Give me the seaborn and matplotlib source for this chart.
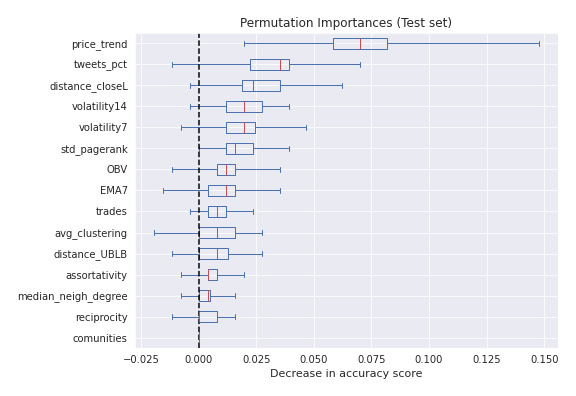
import numpy as np
import matplotlib
matplotlib.use("Agg")
import matplotlib.pyplot as plt
import seaborn as sns

# features, top to bottom as shown
features = ['price_trend', 'tweets_pct', 'distance_closeL', 'volatility14', 'volatility7',
            'std_pagerank', 'OBV', 'EMA7', 'trades', 'avg_clustering',
            'distance_UBLB', 'assortativity', 'median_neigh_degree', 'reciprocity', 'comunities']

whis_lo = [0.0197, -0.0116, -0.0038, -0.0038, -0.0077,
           0.0000, -0.0116, -0.0155, -0.0038, -0.0194,
           -0.0116, -0.0077, -0.0077, -0.0116, 0.0]
q1 = [0.0583, 0.0223, 0.0188, 0.0119, 0.0119,
      0.0119, 0.0080, 0.0041, 0.0041, 0.0000,
      0.0000, 0.0041, 0.0000, 0.0000, 0.0]
med = [0.0700, 0.0353, 0.0236, 0.0197, 0.0197,
       0.0158, 0.0119, 0.0119, 0.0080, 0.0080,
       0.0080, 0.0041, 0.0041, 0.0000, 0.0]
q3 = [0.0817, 0.0392, 0.0353, 0.0275, 0.0245,
      0.0236, 0.0158, 0.0158, 0.0119, 0.0158,
      0.0127, 0.0080, 0.0049, 0.0080, 0.0]
whis_hi = [0.1477, 0.0700, 0.0622, 0.0392, 0.0466,
           0.0392, 0.0353, 0.0353, 0.0236, 0.0275,
           0.0275, 0.0197, 0.0158, 0.0158, 0.0]

sns.set_style("darkgrid")

stats = []
for i in range(len(features))[::-1]:
    stats.append({'label': features[i], 'whislo': whis_lo[i], 'q1': q1[i], 'med': med[i],
                  'q3': q3[i], 'whishi': whis_hi[i], 'fliers': []})

blue = '#4C72B0'
red = '#C44E52'

fig, ax = plt.subplots(figsize=(8, 5.5), dpi=72)
ax.bxp(stats, vert=False, showfliers=False,
       boxprops=dict(color=blue), whiskerprops=dict(color=blue),
       capprops=dict(color=blue), medianprops=dict(color=red))
ax.axvline(x=0, color='k', ls='--', lw=1.5)
ax.set_title('Permutation Importances (Test set)', fontsize=12)
ax.set_xlabel('Decrease in accuracy score', fontsize=11)
fig.subplots_adjust(left=0.234, right=0.969, top=0.917, bottom=0.121)
fig.savefig('out.png')
